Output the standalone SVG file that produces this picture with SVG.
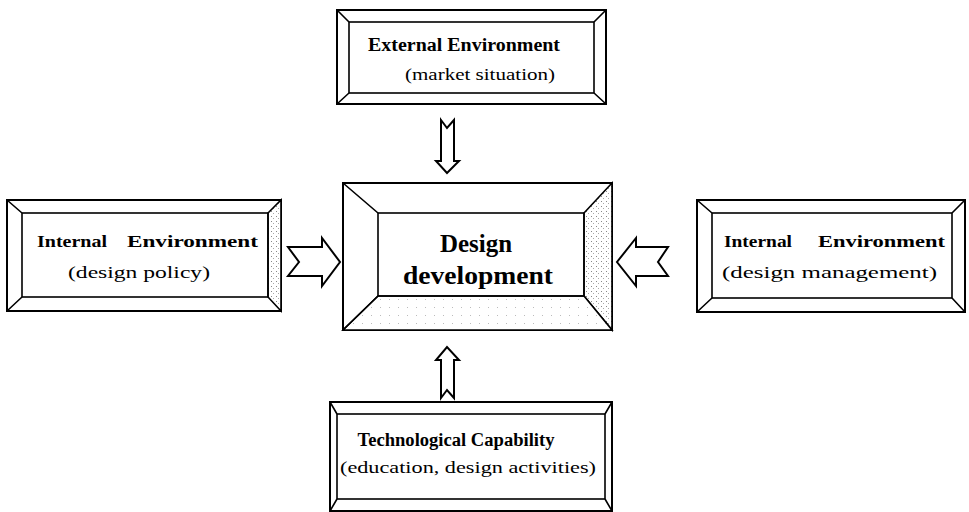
<svg xmlns="http://www.w3.org/2000/svg" width="969" height="512" viewBox="0 0 969 512">
<defs>
<pattern id="dots" width="5" height="5" patternUnits="userSpaceOnUse">
<rect width="5" height="5" fill="#ffffff"/>
<rect x="1" y="1" width="1" height="1" fill="#888"/>
<rect x="3" y="3" width="1" height="1" fill="#aaa"/>
</pattern>
<pattern id="dotsLight" width="9" height="8" patternUnits="userSpaceOnUse">
<rect width="9" height="8" fill="#ffffff"/>
<rect x="2" y="3" width="1" height="1" fill="#bbb"/>
</pattern>
</defs>
<style>
.box{fill:#fff;stroke:#000;stroke-width:2}
.ln{fill:none;stroke:#000;stroke-width:1.6}
.arr{fill:#fff;stroke:#000;stroke-width:2;stroke-linejoin:miter}
.b{font-family:"Liberation Serif",serif;font-weight:bold;fill:#000}
.n{font-family:"Liberation Serif",serif;fill:#000}
</style>
<rect width="969" height="512" fill="#fff"/>

<g id="connectors">
<path class="arr" d="M441,120 L447,128 L454,120 L454,161 L459,161 L447,173 L436,161 L441,161 Z"/>
<path class="arr" d="M441,398 L447,390 L454,398 L454,360 L459,360 L447,347 L436,360 L441,360 Z"/>
<path class="arr" d="M288,247 L322,247 L322,238 L340,262 L322,286 L322,276 L288,276 L299,262 Z"/>
<path class="arr" d="M668,247 L636,247 L636,238 L617,262 L636,286 L636,276 L668,276 L658,262 Z"/>
</g>

<g id="top">
<rect class="box" x="337" y="10" width="269" height="94"/>
<rect class="ln" x="349" y="22" width="245" height="71"/>
<path class="ln" d="M337,10 L349,22 M606,10 L594,22 M337,104 L349,93 M606,104 L594,93"/>
<text class="b" x="464" y="51" font-size="18" text-anchor="middle" textLength="192" lengthAdjust="spacingAndGlyphs">External Environment</text>
<text class="n" x="480" y="80" font-size="17" text-anchor="middle" textLength="150" lengthAdjust="spacingAndGlyphs">(market situation)</text>
</g>

<g id="center">
<rect class="box" x="343" y="183" width="269" height="147"/>
<path d="M584,213 L612,183 L612,330 L584,296 Z" fill="url(#dots)" stroke="#000" stroke-width="1.6"/>
<path d="M378,296 L584,296 L612,330 L343,330 Z" fill="url(#dotsLight)" stroke="#000" stroke-width="1.6"/>
<rect class="ln" x="378" y="213" width="206" height="83"/>
<path class="ln" d="M343,183 L378,213 M343,330 L378,296"/>
<text class="b" x="476" y="252" font-size="25" text-anchor="middle" textLength="72" lengthAdjust="spacingAndGlyphs">Design</text>
<text class="b" x="478" y="284" font-size="25" text-anchor="middle" textLength="150" lengthAdjust="spacingAndGlyphs">development</text>
</g>

<g id="left">
<rect class="box" x="7" y="200" width="274" height="111"/>
<path d="M268,213 L281,200 L281,311 L268,297 Z" fill="url(#dots)" stroke="#000" stroke-width="1.6"/>
<rect class="ln" x="22" y="213" width="246" height="84"/>
<path class="ln" d="M7,200 L22,213 M7,311 L22,297"/>
<text class="b" x="37" y="247" font-size="17" textLength="70" lengthAdjust="spacingAndGlyphs">Internal</text>
<text class="b" x="127" y="247" font-size="17" textLength="131" lengthAdjust="spacingAndGlyphs">Environment</text>
<text class="n" x="68" y="278" font-size="17" textLength="142" lengthAdjust="spacingAndGlyphs">(design policy)</text>
</g>

<g id="right">
<rect class="box" x="697" y="200" width="268" height="112"/>
<rect class="ln" x="712" y="213" width="240" height="85"/>
<path class="ln" d="M697,200 L712,213 M965,200 L952,213 M697,312 L712,298 M965,312 L952,298"/>
<text class="b" x="724" y="247" font-size="17" textLength="68" lengthAdjust="spacingAndGlyphs">Internal</text>
<text class="b" x="818" y="247" font-size="17" textLength="127" lengthAdjust="spacingAndGlyphs">Environment</text>
<text class="n" x="722" y="278" font-size="17" textLength="215" lengthAdjust="spacingAndGlyphs">(design management)</text>
</g>

<g id="bottom">
<rect class="box" x="330" y="402" width="282" height="109"/>
<rect class="ln" x="337" y="414" width="268" height="85"/>
<path class="ln" d="M330,402 L337,414 M612,402 L605,414 M330,511 L337,499 M612,511 L605,499"/>
<text class="b" x="456" y="446" font-size="18" text-anchor="middle" textLength="197" lengthAdjust="spacingAndGlyphs">Technological Capability</text>
<text class="n" x="468" y="473" font-size="17" text-anchor="middle" textLength="256" lengthAdjust="spacingAndGlyphs">(education, design activities)</text>
</g>
</svg>
